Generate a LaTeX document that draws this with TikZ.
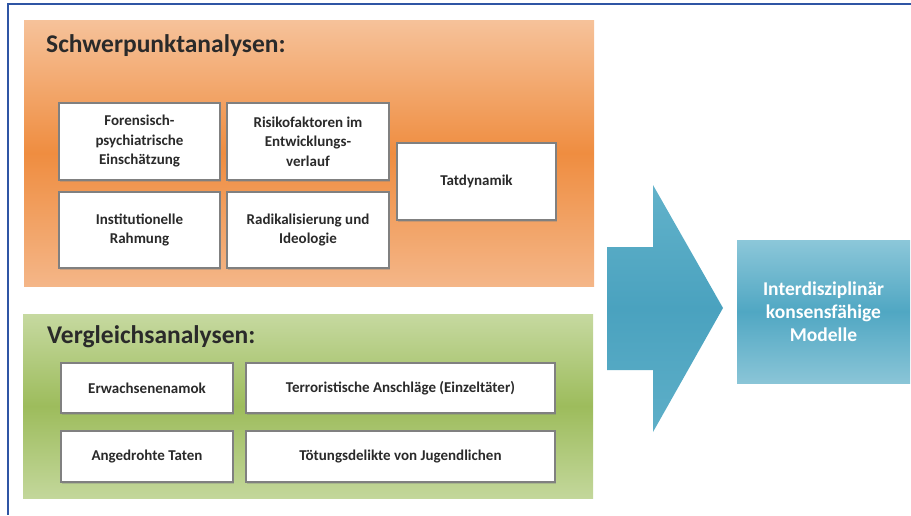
\documentclass[tikz,border=0pt]{standalone}
\usepackage{fontspec}
\setmainfont{Carlito}
\usetikzlibrary{shadows}
\definecolor{frame}{HTML}{2F55A4}
\definecolor{orTop}{HTML}{F6C29A}
\definecolor{orMid}{HTML}{EF8D40}
\definecolor{orBot}{HTML}{F4B688}
\definecolor{grTop}{HTML}{C6D9A0}
\definecolor{grMid}{HTML}{9DBC5C}
\definecolor{grBot}{HTML}{C3D79B}
\definecolor{arTop}{HTML}{62B2CA}
\definecolor{arMid}{HTML}{4AA2BF}
\definecolor{arBot}{HTML}{5EAFC8}
\definecolor{bxTop}{HTML}{8CC7D9}
\definecolor{bxMid}{HTML}{50A7C3}
\definecolor{bxBot}{HTML}{8AC5D7}
\definecolor{txt}{HTML}{2A2A2A}
\tikzset{
  panel/.style={anchor=north west, inner sep=0pt, draw=none},
  ptitle/.style={anchor=base west, inner sep=0pt, text=txt,
    font=\bfseries\fontsize{25.5}{29}\selectfont},
  itembox/.style={draw=black!50, line width=1.2pt, fill=white, align=center,
    inner sep=2pt, text=txt, font=\bfseries\fontsize{15}{19.5}\selectfont,
    drop shadow={shadow xshift=1pt, shadow yshift=-1.5pt, opacity=0.35}},
}
\begin{document}
\begin{tikzpicture}[x=1pt,y=-1pt]
\useasboundingbox (0,0) rectangle (911,515);
% frame lines
\draw[frame, line width=2.5pt] (7,4) -- (911,4);
\draw[frame, line width=2pt] (8,4) -- (8,515);
% panels
\node[panel, minimum width=570pt, minimum height=266pt,
  top color=orTop, bottom color=orBot, middle color=orMid] (orange) at (24,20) {};
\node[panel, minimum width=570pt, minimum height=184pt,
  top color=grTop, bottom color=grBot, middle color=grMid] (green) at (23,314) {};
\node[ptitle] (t1) at (46,52) {Schwerpunktanalysen:};
\node[ptitle] (t2) at (47,343) {Vergleichsanalysen:};
% orange items
\node[itembox, minimum width=161pt, minimum height=77pt] (b1) at (139.5,141.5)
  {Forensisch-\\psychiatrische\\Einschätzung};
\node[itembox, minimum width=162pt, minimum height=77pt] (b2) at (308,141.5)
  {Risikofaktoren im\\Entwicklungs-\\verlauf};
\node[itembox, minimum width=161pt, minimum height=76pt] (b3) at (139.5,230)
  {Institutionelle\\Rahmung};
\node[itembox, minimum width=162pt, minimum height=76pt] (b4) at (308,230)
  {Radikalisierung und\\Ideologie};
\node[itembox, minimum width=159pt, minimum height=77pt] (b5) at (476.5,181.5)
  {Tatdynamik};
% green items
\node[itembox, minimum width=172pt, minimum height=50pt] (g1) at (147,388)
  {Erwachsenenamok};
\node[itembox, minimum width=309pt, minimum height=50pt] (g2) at (400.5,388)
  {Terroristische Anschläge (Einzeltäter)};
\node[itembox, minimum width=172pt, minimum height=51pt] (g3) at (147,456.5)
  {Angedrohte Taten};
\node[itembox, minimum width=309pt, minimum height=51pt] (g4) at (400.5,456.5)
  {Tötungsdelikte von Jugendlichen};
% big arrow
\coordinate (a1) at (607,247);
\coordinate (a2) at (653,247);
\coordinate (a3) at (653,185);
\coordinate (tip) at (723,308);
\coordinate (a5) at (653,432);
\coordinate (a6) at (653,370);
\coordinate (a7) at (607,370);
\path[top color=arTop, bottom color=arBot, middle color=arMid]
  (a1) -- (a2) -- (a3) -- (tip) -- (a5) -- (a6) -- (a7) -- cycle;
% result box
\node[panel, anchor=center, minimum width=173pt, minimum height=143pt,
  top color=bxTop, bottom color=bxBot, middle color=bxMid,
  text=white, align=center, font=\bfseries\fontsize{19.5}{23}\selectfont]
  (res) at (823.5,311.5) {Interdisziplinär\\konsensfähige\\Modelle};
\end{tikzpicture}
\end{document}
